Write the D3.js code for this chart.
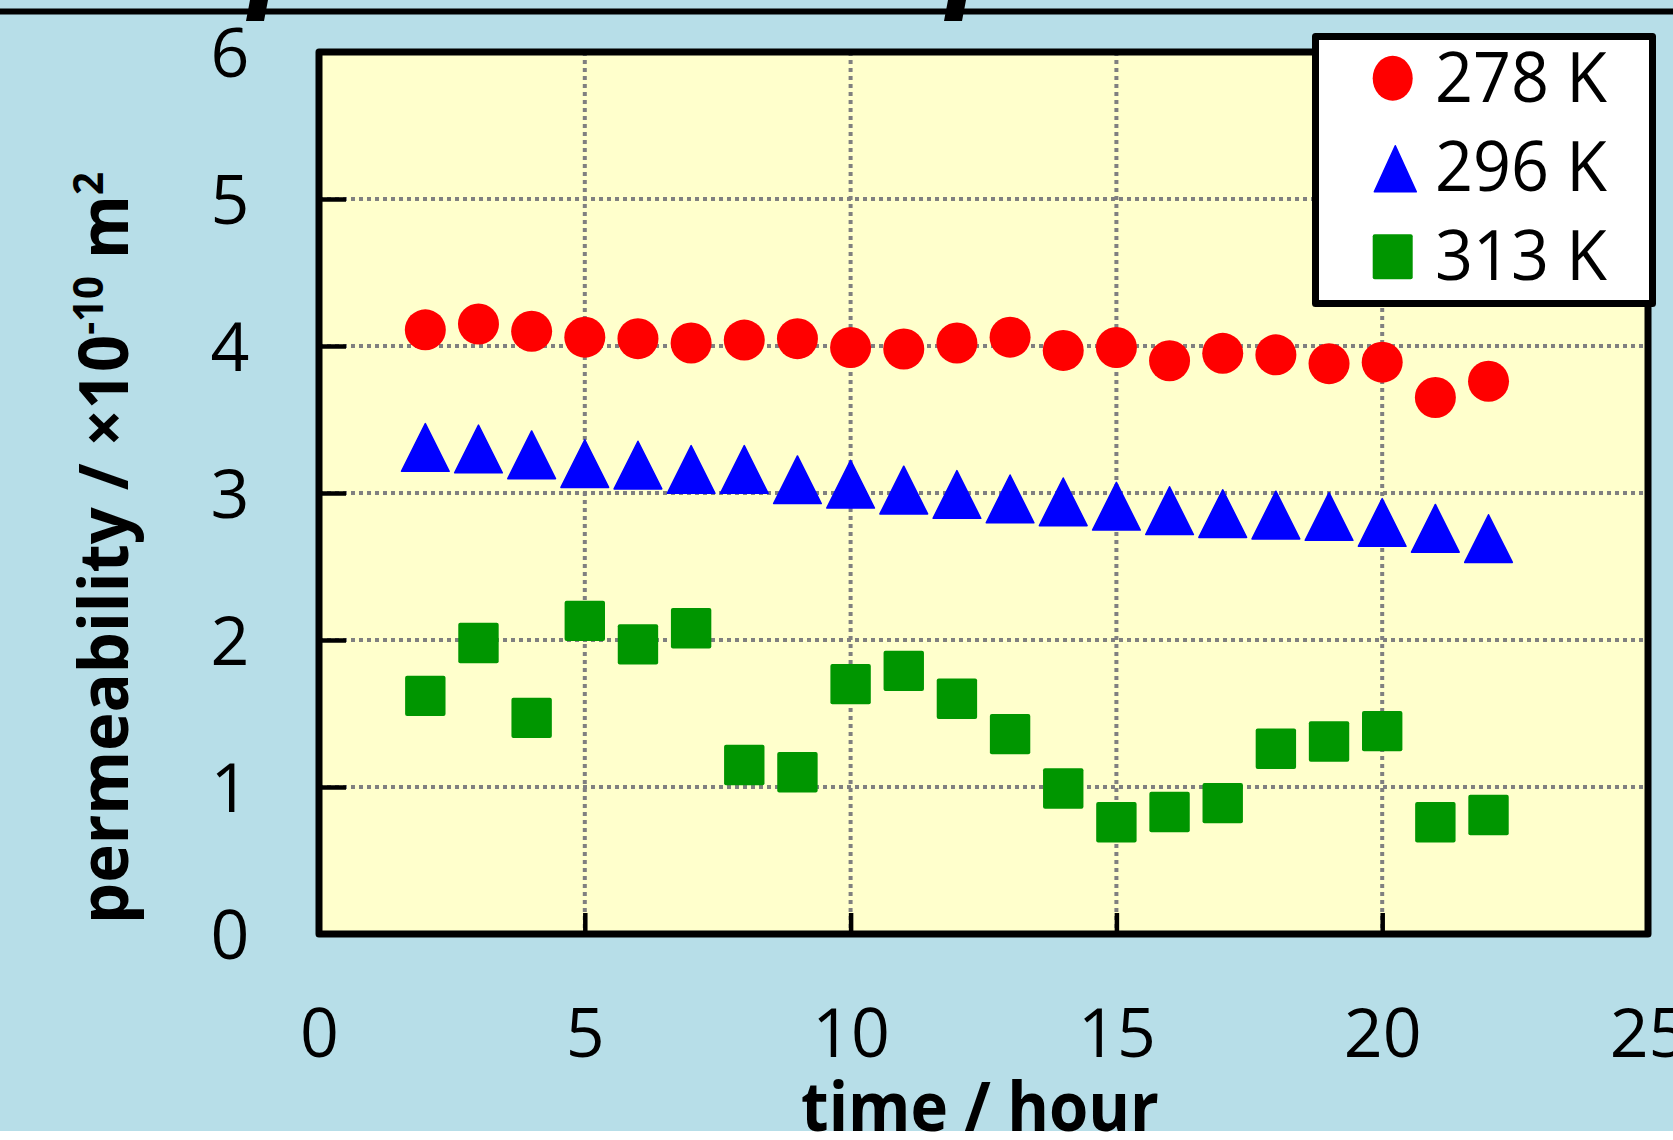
<!DOCTYPE html>
<html>
<head>
<meta charset="utf-8">
<script src="https://cdn.jsdelivr.net/npm/d3@7/dist/d3.min.js"></script>
<style>
  html, body { margin: 0; padding: 0; background: #b7dee8; }
  svg { display: block; }
  text { font-family: "Open Sans", "Noto Sans", sans-serif; }
</style>
</head>
<body>
<svg id="chart" width="1673" height="1140"></svg>
<script>
// ---------------- data ----------------
const times   = [2,3,4,5,6,7,8,9,10,11,12,13,14,15,16,17,18,19,20,21,22];
const perm278 = [4.11,4.15,4.10,4.06,4.05,4.02,4.04,4.05,3.99,3.98,4.02,4.06,3.97,3.99,3.90,3.95,3.94,3.88,3.89,3.65,3.76];
const perm296 = [3.31,3.30,3.26,3.20,3.19,3.16,3.16,3.09,3.06,3.02,2.99,2.96,2.94,2.91,2.88,2.86,2.85,2.84,2.80,2.76,2.69];
const perm313 = [1.62,1.98,1.47,2.13,1.97,2.08,1.15,1.10,1.70,1.79,1.60,1.36,0.99,0.76,0.83,0.89,1.26,1.31,1.38,0.76,0.81];
const seriesNames = ["278 K", "296 K", "313 K"];
const xTicks = [0,5,10,15,20,25];
const yTicks = [0,1,2,3,4,5,6];
const xGrid = [5,10,15,20];
const yGrid = [1,2,3,4,5];

// ---------------- layout ----------------
const W = 1673, H = 1140;
const L = 319, R = 1648, T = 52, B = 934;
const svg = d3.select("#chart");
const x = d3.scaleLinear().domain([0,25]).range([L,R]);
const y = d3.scaleLinear().domain([0,6]).range([B,T]);

// background
svg.append("rect").attr("width",W).attr("height",H).attr("fill","#b7dee8");
// top line and cut-off fragments from above
svg.append("rect").attr("x",0).attr("y",8.5).attr("width",W).attr("height",6).attr("fill","#000");
[[250,268,264,246],[948,966,962,944]].forEach(p=>{
  svg.append("polygon").attr("points",`${p[0]},0 ${p[1]},0 ${p[2]},21 ${p[3]},21`).attr("fill","#000");
});

// plot area
svg.append("rect").attr("x",L).attr("y",T).attr("width",R-L).attr("height",B-T).attr("fill","#ffffcc");

// grid
const grid = svg.append("g").attr("stroke","#808080").attr("stroke-width",4).attr("stroke-dasharray","4,4");
xGrid.forEach(v=>grid.append("line").attr("x1",x(v)).attr("x2",x(v)).attr("y1",T).attr("y2",B));
yGrid.forEach(v=>grid.append("line").attr("x1",L).attr("x2",R).attr("y1",y(v)).attr("y2",y(v)));

// axes (ticks inside)
const gx = svg.append("g").attr("transform",`translate(0,${B})`)
  .call(d3.axisBottom(x).tickValues(xTicks).tickSize(-21).tickPadding(0).tickFormat(d3.format("d")));
gx.select(".domain").remove();
gx.selectAll(".tick line").attr("stroke","#000").attr("stroke-width",4.5);
gx.selectAll(".tick text").attr("y",123).attr("dy",null).attr("font-size",68)
  .attr("fill","#000").attr("font-family","'Open Sans', sans-serif");

const gy = svg.append("g").attr("transform",`translate(${L},0)`)
  .call(d3.axisLeft(y).tickValues(yTicks).tickSize(-27).tickPadding(0).tickFormat(d3.format("d")));
gy.select(".domain").remove();
gy.selectAll(".tick line").attr("stroke","#000").attr("stroke-width",4.5);
gy.selectAll(".tick text").attr("x",-89).attr("dy",24).attr("text-anchor","middle")
  .attr("font-size",68).attr("fill","#000").attr("font-family","'Open Sans', sans-serif");

// frame
svg.append("rect").attr("x",L).attr("y",T).attr("width",R-L).attr("height",B-T)
  .attr("fill","none").attr("stroke","#000").attr("stroke-width",7).attr("stroke-linejoin","round");

// markers
const colors = ["#ff0000","#0000ff","#009600"];
const triPath = (w,h)=>`M0,${-h/2}L${w/2},${h/2}L${-w/2},${h/2}Z`;

svg.append("g").selectAll("circle").data(times.map((t,i)=>[t,perm278[i]])).join("circle")
  .attr("cx",d=>x(d[0])).attr("cy",d=>y(d[1])).attr("r",20.5).attr("fill",colors[0]);

svg.append("g").selectAll("path").data(times.map((t,i)=>[t,perm296[i]])).join("path")
  .attr("transform",d=>`translate(${x(d[0])},${y(d[1])})`)
  .attr("d",triPath(47.7,47.7)).attr("fill",colors[1])
  .attr("stroke",colors[1]).attr("stroke-width",1.5).attr("stroke-linejoin","round");

svg.append("g").selectAll("rect").data(times.map((t,i)=>[t,perm313[i]])).join("rect")
  .attr("x",d=>x(d[0])-20.2).attr("y",d=>y(d[1])-20.2).attr("width",40.4).attr("height",40.4)
  .attr("rx",2).attr("fill",colors[2]);

// legend
const lg = svg.append("g");
lg.append("rect").attr("x",1315.5).attr("y",36.5).attr("width",337).attr("height",267)
  .attr("fill","#fff").attr("stroke","#000").attr("stroke-width",7).attr("stroke-linejoin","round");
lg.append("ellipse").attr("cx",1392.7).attr("cy",78.3).attr("rx",20).attr("ry",22.5).attr("fill",colors[0]);
lg.append("path").attr("transform","translate(1395.3,168.7)").attr("d",triPath(42,46))
  .attr("fill",colors[1]).attr("stroke",colors[1]).attr("stroke-width",1.5).attr("stroke-linejoin","round");
lg.append("rect").attr("x",1372.7).attr("y",234.2).attr("width",40).attr("height",45).attr("rx",2).attr("fill",colors[2]);
const legBase = [101.5,190.5,279.5];
seriesNames.forEach((s,i)=>{
  const t = lg.append("text").attr("x",1435).attr("y",legBase[i]).attr("font-size",69).attr("fill","#000").text(s);
  const len = t.node().getComputedTextLength();
  const k = 172 / len;
  t.attr("x",null).attr("y",null).attr("transform",`translate(1435,${legBase[i]}) scale(${k},1)`);
});

// y-axis title
const yt = svg.append("text").attr("font-size",68).attr("font-weight","bold").attr("fill","#000");
yt.append("tspan").text("permeability / ×10");
yt.append("tspan").attr("font-size",42).attr("dy",-25).text("-10");
yt.append("tspan").attr("dy",25).text(" m");
yt.append("tspan").attr("font-size",42).attr("dy",-25).text("2");
const ylen = yt.node().getComputedTextLength();
const ky = 752 / ylen;
yt.attr("transform",`translate(128,924) rotate(-90) scale(${ky},1)`);

// bottom white strip
svg.append("rect").attr("x",0).attr("y",1131).attr("width",W).attr("height",H-1131).attr("fill","#fff");

// x-axis title
const xt = svg.append("text").attr("font-size",68).attr("font-weight","bold").attr("fill","#000")
  .attr("text-anchor","middle").text("time / hour");
const xlen = xt.node().getComputedTextLength();
const kx = 358 / xlen;
xt.attr("transform",`translate(980,1131) scale(${kx},1)`);
</script>
</body>
</html>
